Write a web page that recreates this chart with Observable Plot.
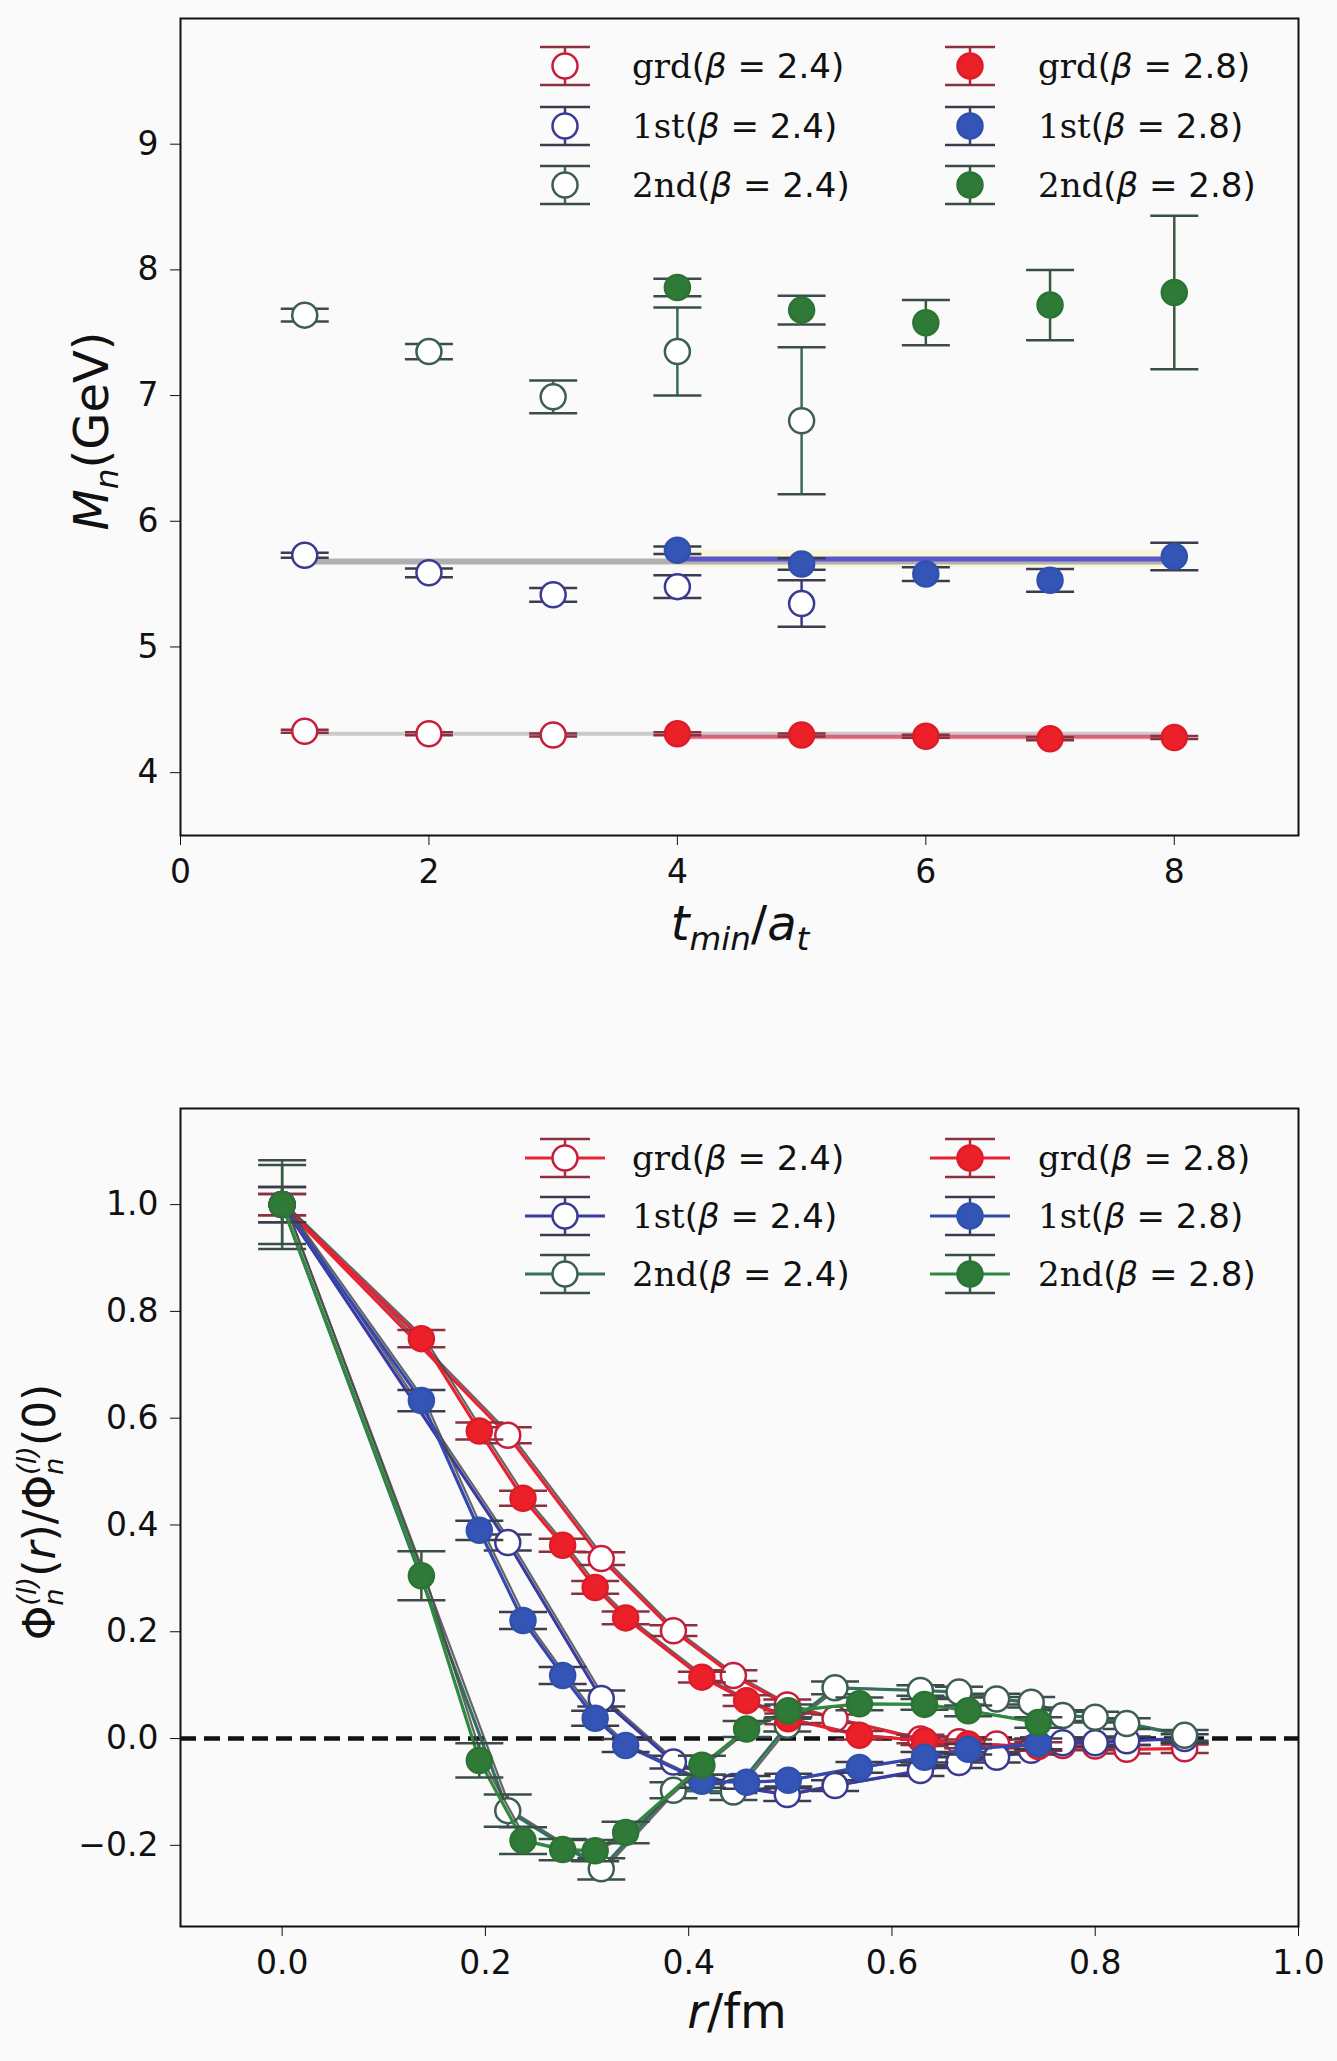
<!DOCTYPE html>
<html>
<head>
<meta charset="utf-8">
<script src="https://cdn.jsdelivr.net/npm/d3@7"></script>
<script src="https://cdn.jsdelivr.net/npm/@observablehq/plot@0.6"></script>
<style>
  html, body { margin: 0; padding: 0; background: #fafafa; }
  #wrap { position: relative; width: 1337px; height: 2061px; background: #fafafa; font-family: "DejaVu Sans", sans-serif; color: #111; }
  .abs { position: absolute; }
  .lbl { position: absolute; font-size: 46px; white-space: nowrap; transform: translate(-50%, -50%); line-height: 1; }
  .rot { transform: translate(-50%, -50%) rotate(-90deg); }
  .it { font-style: italic; }
  .sub { font-size: 0.68em; vertical-align: -0.3em; }
  .ss { display: inline-flex; flex-direction: column; font-size: 0.62em; line-height: 1.0; vertical-align: 0.7em; }
  .leg { position: absolute; font-size: 34px; white-space: nowrap; line-height: 1; transform: translateY(-50%); }
  .serif { font-family: "DejaVu Serif", serif; }
</style>
</head>
<body>
<div id="wrap"></div>
<script>
// ---------------- DATA: top panel (M_n vs t_min/a_t) ----------------
const t_b24 = [1, 2, 3, 4, 5];
const t_b28 = [4, 5, 6, 7, 8];
const t_grd_b24 = [1, 2, 3];
const M_grd_24 = [4.33, 4.31, 4.30];
const E_grd_24 = [0.012, 0.012, 0.012];
const M_grd_28 = [4.31, 4.30, 4.29, 4.27, 4.28];
const E_grd_28 = [0.012, 0.012, 0.012, 0.012, 0.012];
const M_1st_24 = [5.73, 5.59, 5.415, 5.48, 5.345];
const E_1st_24 = [0.02, 0.035, 0.055, 0.09, 0.185];
const M_1st_28 = [5.77, 5.66, 5.58, 5.53, 5.72];
const E_1st_28 = [0.03, 0.045, 0.055, 0.09, 0.11];
const M_2nd_24 = [7.64, 7.35, 6.99, 7.35, 6.80];
const E_2nd_24 = [0.05, 0.06, 0.13, 0.35, 0.585];
const M_2nd_28 = [7.86, 7.68, 7.58, 7.72, 7.82];
const E_2nd_28 = [0.07, 0.115, 0.18, 0.28, 0.61];
// fitted plateau values
const fit_grd_all = 4.31, fit_grd_28 = 4.285;
const fit_1st_all = 5.68, fit_1st_28 = 5.70;
const fitRangeAll = [1, 8], fitRange28 = [4, 8];
const topXTicks = [0, 2, 4, 6, 8];
const topYTicks = [4, 5, 6, 7, 8, 9];

// ---------------- DATA: bottom panel (wave functions) ----------------
const r_b24 = [0, 0.222, 0.314, 0.385, 0.444, 0.497, 0.544, 0.628, 0.666, 0.703, 0.737, 0.768, 0.800, 0.831, 0.888];
const r_b28 = [0, 0.137, 0.194, 0.237, 0.276, 0.308, 0.338, 0.413, 0.457, 0.498, 0.568, 0.632, 0.675, 0.744];
const phi_grd_24 = [1.0, 0.568, 0.337, 0.202, 0.118, 0.063, 0.037, -0.001, -0.006, -0.010, -0.018, -0.013, -0.014, -0.020, -0.019];
const err_grd_24 = [0.02, 0.015, 0.012, 0.01, 0.01, 0.01, 0.008, 0.008, 0.008, 0.008, 0.008, 0.008, 0.008, 0.008, 0.008];
const phi_grd_28 = [1.0, 0.749, 0.576, 0.450, 0.362, 0.283, 0.226, 0.115, 0.071, 0.037, 0.006, -0.004, -0.010, -0.015];
const err_grd_28 = [0.02, 0.016, 0.016, 0.014, 0.012, 0.012, 0.012, 0.01, 0.01, 0.01, 0.008, 0.008, 0.008, 0.008];
const phi_1st_24 = [1.0, 0.367, 0.075, -0.044, -0.090, -0.105, -0.088, -0.060, -0.045, -0.035, -0.022, -0.008, -0.008, -0.004, 0.0];
const err_1st_24 = [0.033, 0.015, 0.015, 0.012, 0.012, 0.012, 0.01, 0.01, 0.01, 0.01, 0.008, 0.008, 0.008, 0.008, 0.008];
const phi_1st_28 = [1.0, 0.633, 0.390, 0.221, 0.118, 0.038, -0.013, -0.080, -0.082, -0.078, -0.054, -0.035, -0.020, -0.010];
const err_1st_28 = [0.033, 0.02, 0.018, 0.016, 0.016, 0.014, 0.012, 0.012, 0.012, 0.012, 0.01, 0.01, 0.01, 0.01];
const phi_2nd_24 = [1.0, -0.135, -0.244, -0.097, -0.100, 0.025, 0.095, 0.090, 0.087, 0.074, 0.068, 0.043, 0.040, 0.028, 0.006];
const err_2nd_24 = [0.083, 0.03, 0.02, 0.015, 0.015, 0.012, 0.012, 0.01, 0.01, 0.01, 0.01, 0.01, 0.01, 0.01, 0.01];
const phi_2nd_28 = [1.0, 0.305, -0.041, -0.191, -0.208, -0.210, -0.176, -0.050, 0.018, 0.052, 0.065, 0.064, 0.052, 0.030];
const err_2nd_28 = [0.074, 0.046, 0.032, 0.025, 0.02, 0.02, 0.02, 0.018, 0.015, 0.012, 0.012, 0.01, 0.01, 0.01];
const botXTicks = [0, 0.2, 0.4, 0.6, 0.8, 1.0];
const botYTicks = [-0.2, 0, 0.2, 0.4, 0.6, 0.8, 1.0];

const labels = ["grd", "1st", "2nd"];
const betas = ["2.4", "2.8"];

// ---------------- STYLES ----------------
const sty = {
  grd24: {edge: "#c81e3c", fill: "#ffffff", line: "#e82432", bar: "#b8283c", cap: "#8a3040"},
  "1st24": {edge: "#3a3a92", fill: "#ffffff", line: "#3a3aa6", bar: "#3a3a86", cap: "#3c3c4c"},
  "2nd24": {edge: "#3d5e52", fill: "#ffffff", line: "#357060", bar: "#3a6a5a", cap: "#3c4c48"},
  grd28: {edge: "#dc1c28", fill: "#ec2028", line: "#e82030", bar: "#c02030", cap: "#8a3040"},
  "1st28": {edge: "#3050ae", fill: "#3454b6", line: "#3448b0", bar: "#30408a", cap: "#3c3c4c"},
  "2nd28": {edge: "#2c7434", fill: "#2e7a36", line: "#2e8a3c", bar: "#3a5a40", cap: "#3c4c48"}
};
const R = 12.5;
const capSym = {draw(ctx) { ctx.moveTo(-24, 0); ctx.lineTo(24, 0); }};

function rows(xs, ys, es) { return xs.map((x, i) => ({x, y: ys[i], lo: ys[i] - es[i], hi: ys[i] + es[i]})); }

function seriesMarks(d, s, withLine) {
  const m = [];
  if (withLine) {
    m.push(Plot.line(d, {x: "x", y: "y", stroke: "#4a4a4a", strokeWidth: 2.2, dx: 3.5, strokeOpacity: 0.85}));
    m.push(Plot.line(d, {x: "x", y: "y", stroke: s.line, strokeWidth: 3.2}));
  }
  m.push(Plot.ruleX(d, {x: "x", y1: "lo", y2: "hi", stroke: s.bar, strokeWidth: 2.5}));
  m.push(Plot.dot(d, {x: "x", y: "lo", symbol: capSym, r: 5, stroke: s.cap, strokeWidth: 2.5, fill: "none"}));
  m.push(Plot.dot(d, {x: "x", y: "hi", symbol: capSym, r: 5, stroke: s.cap, strokeWidth: 2.5, fill: "none"}));
  m.push(Plot.dot(d, {x: "x", y: "y", r: R, stroke: s.edge, fill: s.fill, strokeWidth: 2.5}));
  return m;
}

const wrap = document.getElementById("wrap");

// ---------------- TOP PANEL ----------------
const topData = {
  grd24: rows(t_grd_b24, M_grd_24, E_grd_24),
  "1st24": rows(t_b24, M_1st_24, E_1st_24),
  "2nd24": rows(t_b24, M_2nd_24, E_2nd_24),
  grd28: rows(t_b28, M_grd_28, E_grd_28),
  "1st28": rows(t_b28, M_1st_28, E_1st_28),
  "2nd28": rows(t_b28, M_2nd_28, E_2nd_28)
};
const fitLines = [
  {x1: fitRangeAll[0], x2: fitRangeAll[1], y: fit_1st_all, c: "#b0b0b0", w: 6},
  {x1: fitRange28[0], x2: fitRange28[1], y: fit_1st_28, c: "#5a56c8", w: 5},
  {x1: fitRangeAll[0], x2: fitRangeAll[1], y: fit_grd_all, c: "#cacaca", w: 4},
  {x1: fitRange28[0], x2: fitRange28[1], y: fit_grd_28, c: "#e0607a", w: 4}
];
const bands = [
  {x1: fitRange28[0], x2: fitRange28[1], y1: fit_1st_28 - 0.07, y2: fit_1st_28 + 0.07, c: "#f8f6d8"},
  {x1: fitRange28[0], x2: fitRange28[1], y1: fit_grd_28 - 0.03, y2: fit_grd_28 + 0.03, c: "#fde4ec"}
];

const topPlot = Plot.plot({
  width: 1337, height: 1000,
  marginTop: 18, marginRight: 39, marginBottom: 165, marginLeft: 180,
  style: {background: "transparent", fontSize: "33px", fontFamily: "DejaVu Sans", color: "#111"},
  x: {domain: [0, 9], ticks: topXTicks, tickFormat: d3.format("d"), tickSize: 10, tickPadding: 14, label: null},
  y: {domain: [3.5, 10], ticks: topYTicks, tickFormat: d3.format("d"), tickSize: 10, tickPadding: 12, label: null},
  marks: [
    Plot.rect(bands, {x1: "x1", x2: "x2", y1: "y1", y2: "y2", fill: "c"}),
    Plot.link(fitLines, {x1: "x1", x2: "x2", y1: "y", y2: "y", stroke: "c", strokeWidth: "w"}),
    ...["grd24", "1st24", "2nd24", "grd28", "1st28", "2nd28"].flatMap(k => seriesMarks(topData[k], sty[k], false)),
    Plot.frame({stroke: "#111", strokeWidth: 2})
  ]
});
topPlot.style.position = "absolute"; topPlot.style.left = "0px"; topPlot.style.top = "0px";
wrap.appendChild(topPlot);

// ---------------- BOTTOM PANEL ----------------
const botData = {
  grd24: rows(r_b24, phi_grd_24, err_grd_24),
  "1st24": rows(r_b24, phi_1st_24, err_1st_24),
  "2nd24": rows(r_b24, phi_2nd_24, err_2nd_24),
  grd28: rows(r_b28, phi_grd_28, err_grd_28),
  "1st28": rows(r_b28, phi_1st_28, err_1st_28),
  "2nd28": rows(r_b28, phi_2nd_28, err_2nd_28)
};
const botPlot = Plot.plot({
  width: 1337, height: 1001,
  marginTop: 48, marginRight: 39, marginBottom: 135, marginLeft: 180,
  style: {background: "transparent", fontSize: "33px", fontFamily: "DejaVu Sans", color: "#111"},
  x: {domain: [-0.1, 1.0], ticks: botXTicks, tickFormat: d3.format(".1f"), tickSize: 10, tickPadding: 14, label: null},
  y: {domain: [-0.352, 1.18], ticks: botYTicks, tickFormat: d3.format(".1f"), tickSize: 10, tickPadding: 12, label: null},
  marks: [
    Plot.ruleY([0], {stroke: "#111", strokeWidth: 4.5, strokeDasharray: "16,8"}),
    ...["grd24", "1st24", "2nd24", "grd28", "1st28", "2nd28"].flatMap(k => seriesMarks(botData[k], sty[k], true)),
    Plot.frame({stroke: "#111", strokeWidth: 2})
  ]
});
botPlot.style.position = "absolute"; botPlot.style.left = "0px"; botPlot.style.top = "1060px";
wrap.appendChild(botPlot);

// ---------------- AXIS LABELS ----------------
function addLabel(html, x, y, rot, size) {
  const d = document.createElement("div");
  d.className = "lbl" + (rot ? " rot" : "");
  d.style.left = x + "px"; d.style.top = y + "px";
  if (size) d.style.fontSize = size + "px";
  d.innerHTML = html;
  wrap.appendChild(d);
}
addLabel('<span class="it">M</span><span class="sub it">n</span>(GeV)', 95, 431, true, 48);
addLabel('<span class="it">t</span><span class="sub it">min</span>/<span class="it">a</span><span class="sub it">t</span>', 740, 927, false, 48);
const phiHtml = 'Φ<span class="ss"><span class="it">(l)</span><span class="it">n</span></span>';
addLabel(phiHtml + '(<span class="it">r</span>)/' + phiHtml + '(0)', 40, 1512, true, 44);
addLabel('<span class="it">r</span>/fm', 737, 2011, false, 48);

// ---------------- LEGENDS ----------------
function glyph(k, withLine) {
  const s = sty[k];
  let g = '<svg width="90" height="56" viewBox="-45 -28 90 56" style="overflow:visible">';
  if (withLine) g += `<line x1="-40" x2="40" y1="0" y2="0" stroke="${s.line}" stroke-width="3.2"/>`;
  g += `<line x1="0" x2="0" y1="-19" y2="19" stroke="${s.bar}" stroke-width="2.5"/>`;
  g += `<line x1="-25" x2="25" y1="-19" y2="-19" stroke="${s.cap}" stroke-width="2.5"/>`;
  g += `<line x1="-25" x2="25" y1="19" y2="19" stroke="${s.cap}" stroke-width="2.5"/>`;
  g += `<circle r="${R}" fill="${s.fill}" stroke="${s.edge}" stroke-width="2.5"/>`;
  return g + '</svg>';
}
function addLegend(rowsY, withLine, gx) {
  const cols = [{gx: gx[0], tx: 632}, {gx: gx[1], tx: 1038}];
  betas.forEach((b, ci) => {
    labels.forEach((lab, ri) => {
      const k = lab + b.replace(".", "");
      const gd = document.createElement("div");
      gd.className = "abs";
      gd.style.left = (cols[ci].gx - 45) + "px"; gd.style.top = (rowsY[ri] - 28) + "px";
      gd.innerHTML = glyph(k, withLine);
      wrap.appendChild(gd);
      const td = document.createElement("div");
      td.className = "leg";
      td.style.left = cols[ci].tx + "px"; td.style.top = rowsY[ri] + "px";
      td.innerHTML = `<span class="serif">${lab}</span>(<span class="it">β</span> = ${b})`;
      wrap.appendChild(td);
    });
  });
}
addLegend([66, 126, 185], false, [565, 970]);
addLegend([1158, 1216, 1274], true, [565, 970]);
</script>
</body>
</html>
